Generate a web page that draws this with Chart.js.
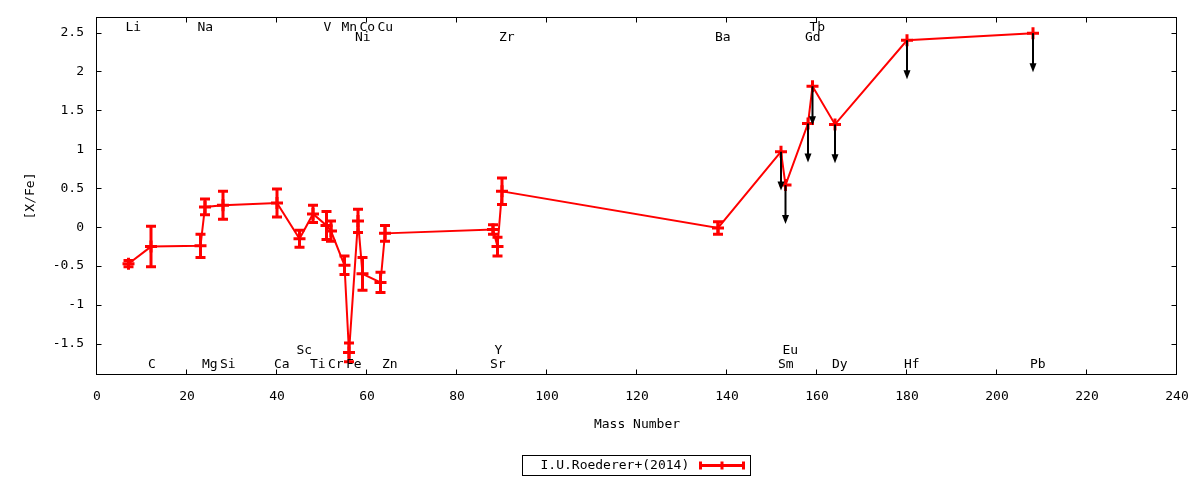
<!DOCTYPE html>
<html>
<head>
<meta charset="utf-8">
<script src="https://cdn.jsdelivr.net/npm/chart.js@4.4.1/dist/chart.umd.min.js"></script>
<style>
  html, body { margin: 0; padding: 0; background: #fff; }
  #wrap { width: 1200px; height: 480px; }
</style>
</head>
<body>
<div id="wrap"><canvas id="abundChart"></canvas></div>
<script>
// Datos
const elements = ["Li", "C", "Na", "Mg", "Si", "Ca", "Sc", "Ti", "V", "Cr", "Mn", "Fe", "Ni", "Co", "Cu", "Zn",
    "Sr", "Y", "Zr", "Ba", "Sm", "Eu", "Gd", "Tb", "Dy", "Hf", "Pb"];
const massNumbers = [7, 12, 23, 24, 28, 40, 45, 48, 51, 52, 55, 56, 58, 59, 63, 64,
    88, 89, 90, 138, 152, 153, 158, 159, 164, 180, 208];
const abundances = [-0.47, -0.25, -0.24, 0.26, 0.28, 0.31, -0.15, 0.17, 0.02, -0.05, -0.49, -1.61, 0.08, -0.60, -0.71, -0.08,
    -0.03, -0.25, 0.46, -0.01, 0.97, 0.54, 1.33, 1.81, 1.32, 2.40, 2.49];
const errors = [0.04, 0.26, 0.15, 0.10, 0.18, 0.18, 0.11, 0.11, 0.18, 0.13, 0.12, 0.12, 0.15, 0.21, 0.13, 0.10,
    0.06, 0.12, 0.17, 0.08, 0, 0, 0, 0, 0, 0, 0];
const upperLimits = [false, false, false, false, false, false, false, false, false, false, false, false, false, false, false, false,
    false, false, false, false, true, true, true, true, true, true, true];
const limitLength = 0.5;

// fila de cada etiqueta: 0/1 arriba, 2/3 abajo
const labelRows = [0, 2, 0, 2, 2, 2, 3, 2, 0, 2, 0, 2, 1, 0, 0, 2,
    2, 3, 1, 1, 2, 3, 1, 0, 2, 2, 2];
const rowValues = [2.56, 2.435, -1.765, -1.585];

const xTicks = [0, 20, 40, 60, 80, 100, 120, 140, 160, 180, 200, 220, 240];
const yTicks = [-1.5, -1, -0.5, 0, 0.5, 1, 1.5, 2, 2.5];
const seriesLabel = "I.U.Roederer+(2014)";

const FONT = '"DejaVu Sans Mono", "Liberation Mono", monospace';
const RED = "#ff0000";

const points = massNumbers.map((m, i) => ({ x: m, y: abundances[i] }));

// Barras de error, flechas, marcas de eje, etiquetas y leyenda
const extrasPlugin = {
    id: "extras",
    afterDatasetsDraw(chart) {
        const { ctx, chartArea, scales } = chart;
        const xs = scales.x, ys = scales.y;
        ctx.save();

        // barras de error
        ctx.strokeStyle = RED;
        ctx.lineWidth = 3;
        points.forEach((p, i) => {
            if (!errors[i]) return;
            const px = xs.getPixelForValue(p.x);
            const top = ys.getPixelForValue(p.y + errors[i]);
            const bot = ys.getPixelForValue(p.y - errors[i]);
            ctx.beginPath();
            ctx.moveTo(px, top); ctx.lineTo(px, bot);
            ctx.moveTo(px - 5, top); ctx.lineTo(px + 5, top);
            ctx.moveTo(px - 5, bot); ctx.lineTo(px + 5, bot);
            ctx.stroke();
        });

        // flechas de limite superior
        ctx.strokeStyle = "#000";
        ctx.fillStyle = "#000";
        ctx.lineWidth = 2;
        points.forEach((p, i) => {
            if (!upperLimits[i]) return;
            const px = xs.getPixelForValue(p.x);
            const y0 = ys.getPixelForValue(p.y);
            const y1 = ys.getPixelForValue(p.y - limitLength);
            ctx.beginPath();
            ctx.moveTo(px, y0); ctx.lineTo(px, y1 - 6);
            ctx.stroke();
            ctx.beginPath();
            ctx.moveTo(px, y1);
            ctx.lineTo(px - 3.5, y1 - 9);
            ctx.lineTo(px + 3.5, y1 - 9);
            ctx.closePath();
            ctx.fill();
        });

        // marco y marcas hacia dentro
        ctx.strokeStyle = "#000";
        ctx.lineWidth = 1;
        const L = Math.round(chartArea.left) - 0.5, R = Math.round(chartArea.right) - 0.5;
        const T = Math.round(chartArea.top) + 0.5, B = Math.round(chartArea.bottom) - 0.5;
        ctx.strokeRect(L, T, R - L, B - T);
        ctx.beginPath();
        xTicks.forEach(v => {
            const px = Math.round(xs.getPixelForValue(v)) - 0.5;
            ctx.moveTo(px, B); ctx.lineTo(px, B - 5);
            ctx.moveTo(px, T); ctx.lineTo(px, T + 5);
        });
        yTicks.forEach(v => {
            const py = Math.round(ys.getPixelForValue(v)) + 0.5;
            ctx.moveTo(L, py); ctx.lineTo(L + 5, py);
            ctx.moveTo(R, py); ctx.lineTo(R - 5, py);
        });
        ctx.stroke();

        // etiquetas de elementos
        ctx.fillStyle = "#000";
        ctx.font = "13px " + FONT;
        ctx.textAlign = "left";
        ctx.textBaseline = "middle";
        elements.forEach((el, i) => {
            const px = xs.getPixelForValue(massNumbers[i]) - 3;
            const py = ys.getPixelForValue(rowValues[labelRows[i]]);
            ctx.fillText(el, px, py);
        });

        // leyenda
        const cx = (chartArea.left + chartArea.right) / 2;
        const boxL = Math.round(cx - 115) + 0.5, boxT = 455.5;
        ctx.strokeRect(boxL, boxT, 228, 20);
        ctx.fillText(seriesLabel, boxL + 18, boxT + 10);
        const s0 = boxL + 178, s1 = boxL + 221, sy = boxT + 10;
        ctx.strokeStyle = RED;
        ctx.lineWidth = 3;
        ctx.beginPath();
        ctx.moveTo(s0, sy); ctx.lineTo(s1, sy);
        ctx.moveTo(s0, sy - 4); ctx.lineTo(s0, sy + 4);
        ctx.moveTo(s1, sy - 4); ctx.lineTo(s1, sy + 4);
        ctx.moveTo((s0 + s1) / 2, sy - 4); ctx.lineTo((s0 + s1) / 2, sy + 4);
        ctx.stroke();

        ctx.restore();
    }
};

const ctx = document.getElementById("abundChart").getContext("2d");
new Chart(ctx, {
    type: "scatter",
    data: {
        datasets: [{
            label: seriesLabel,
            data: points,
            showLine: true,
            borderColor: RED,
            backgroundColor: RED,
            borderWidth: 2,
            tension: 0,
            pointStyle: "cross",
            pointRadius: 6,
            pointBorderWidth: 3,
            pointBorderColor: RED,
            pointHoverRadius: 6
        }]
    },
    options: {
        responsive: true,
        maintainAspectRatio: false,
        animation: false,
        layout: { padding: { left: 0, right: 23, top: 17, bottom: 0 } },
        plugins: {
            legend: { display: false },
            tooltip: { enabled: false }
        },
        scales: {
            x: {
                type: "linear",
                min: 0,
                max: 240,
                afterBuildTicks: (s) => { s.ticks = xTicks.map(v => ({ value: v })); },
                afterFit: (s) => {
                    s.height = 105;
                    s.paddingLeft = 0; s.paddingRight = 0;
                    s.paddingTop = 0; s.paddingBottom = 0;
                },
                grid: { display: false, drawTicks: false },
                border: { display: false },
                ticks: {
                    color: "#000",
                    padding: 14,
                    maxRotation: 0,
                    font: { family: FONT, size: 13 },
                    callback: (v) => String(v)
                },
                title: {
                    display: true,
                    text: "Mass Number",
                    color: "#000",
                    font: { family: FONT, size: 13 },
                    padding: { top: 0, bottom: 48 }
                }
            },
            y: {
                type: "linear",
                min: -1.9,
                max: 2.7,
                afterBuildTicks: (s) => { s.ticks = yTicks.map(v => ({ value: v })); },
                afterFit: (s) => {
                    s.width = 97;
                    s.paddingLeft = 0; s.paddingRight = 0;
                    s.paddingTop = 0; s.paddingBottom = 0;
                },
                grid: { display: false, drawTicks: false },
                border: { display: false },
                ticks: {
                    color: "#000",
                    padding: 13,
                    font: { family: FONT, size: 13 },
                    callback: (v) => String(v)
                },
                title: {
                    display: true,
                    text: "[X/Fe]",
                    color: "#000",
                    font: { family: FONT, size: 13 },
                    padding: { top: 23, bottom: 0 }
                }
            }
        }
    },
    plugins: [extrasPlugin]
});
</script>
</body>
</html>
